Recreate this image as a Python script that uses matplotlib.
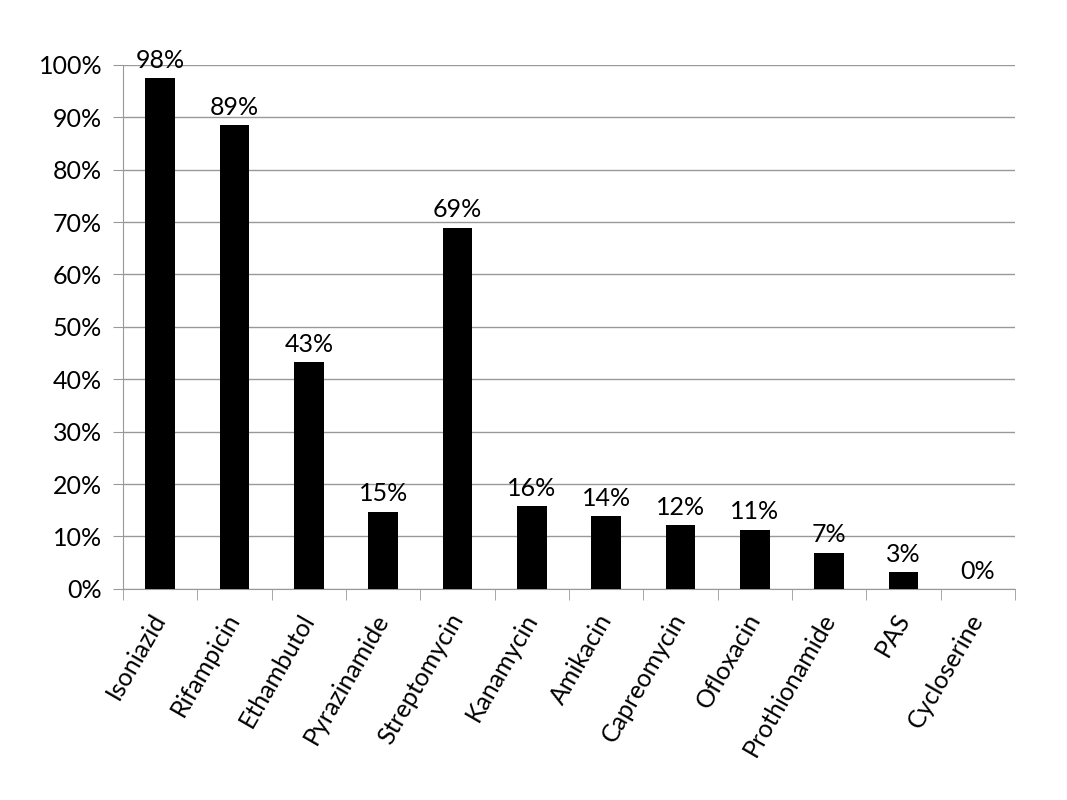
import matplotlib
matplotlib.use('Agg')
import matplotlib.pyplot as plt
import numpy as np

# drug resistance, percent
drugs = ['Isoniazid', 'Rifampicin', 'Ethambutol', 'Pyrazinamide', 'Streptomycin',
         'Kanamycin', 'Amikacin', 'Capreomycin', 'Ofloxacin', 'Prothionamide',
         'PAS', 'Cycloserine']
values = [97.5, 88.5, 43.3, 14.7, 68.9, 15.8, 13.8, 12.1, 11.3, 6.9, 3.2, 0.0]
labels = ['98%', '89%', '43%', '15%', '69%', '16%', '14%', '12%', '11%', '7%', '3%', '0%']
yticks = [0, 10, 20, 30, 40, 50, 60, 70, 80, 90, 100]

plt.rcParams['font.family'] = ['Lato', 'DejaVu Sans']
fs = 18

fig = plt.figure(figsize=(10.67, 8), dpi=100)
ax = fig.add_axes([0.1153, 0.264, 0.836, 0.655])

x = np.arange(len(drugs))
ax.bar(x, values, width=0.4, color='black', zorder=3)

for xi, v, lab in zip(x, values, labels):
    ax.text(xi, v + 1.2, lab, ha='center', va='bottom', fontsize=fs)

ax.set_xlim(-0.5, len(drugs) - 0.5)
ax.set_ylim(0, 100)
ax.set_yticks(yticks)
ax.set_yticklabels([f'{t}%' for t in yticks], fontsize=fs)
ax.yaxis.grid(True, color='#999999', linewidth=1, zorder=0)

# category labels between boundary ticks
ax.set_xticks(x)
ax.set_xticklabels(drugs, rotation=60, ha='right', va='center',
                   rotation_mode='anchor', fontsize=fs)
ax.tick_params(axis='x', length=0, pad=19)
ax.set_xticks(np.arange(-0.5, len(drugs)), minor=True)
ax.tick_params(axis='x', which='minor', length=8, color='#999999')
ax.tick_params(axis='y', length=7, color='#999999', pad=8)

for s in ['top', 'right']:
    ax.spines[s].set_visible(False)
ax.spines['left'].set_color('#999999')
ax.spines['bottom'].set_color('#999999')

fig.savefig('out.png', dpi=100)
